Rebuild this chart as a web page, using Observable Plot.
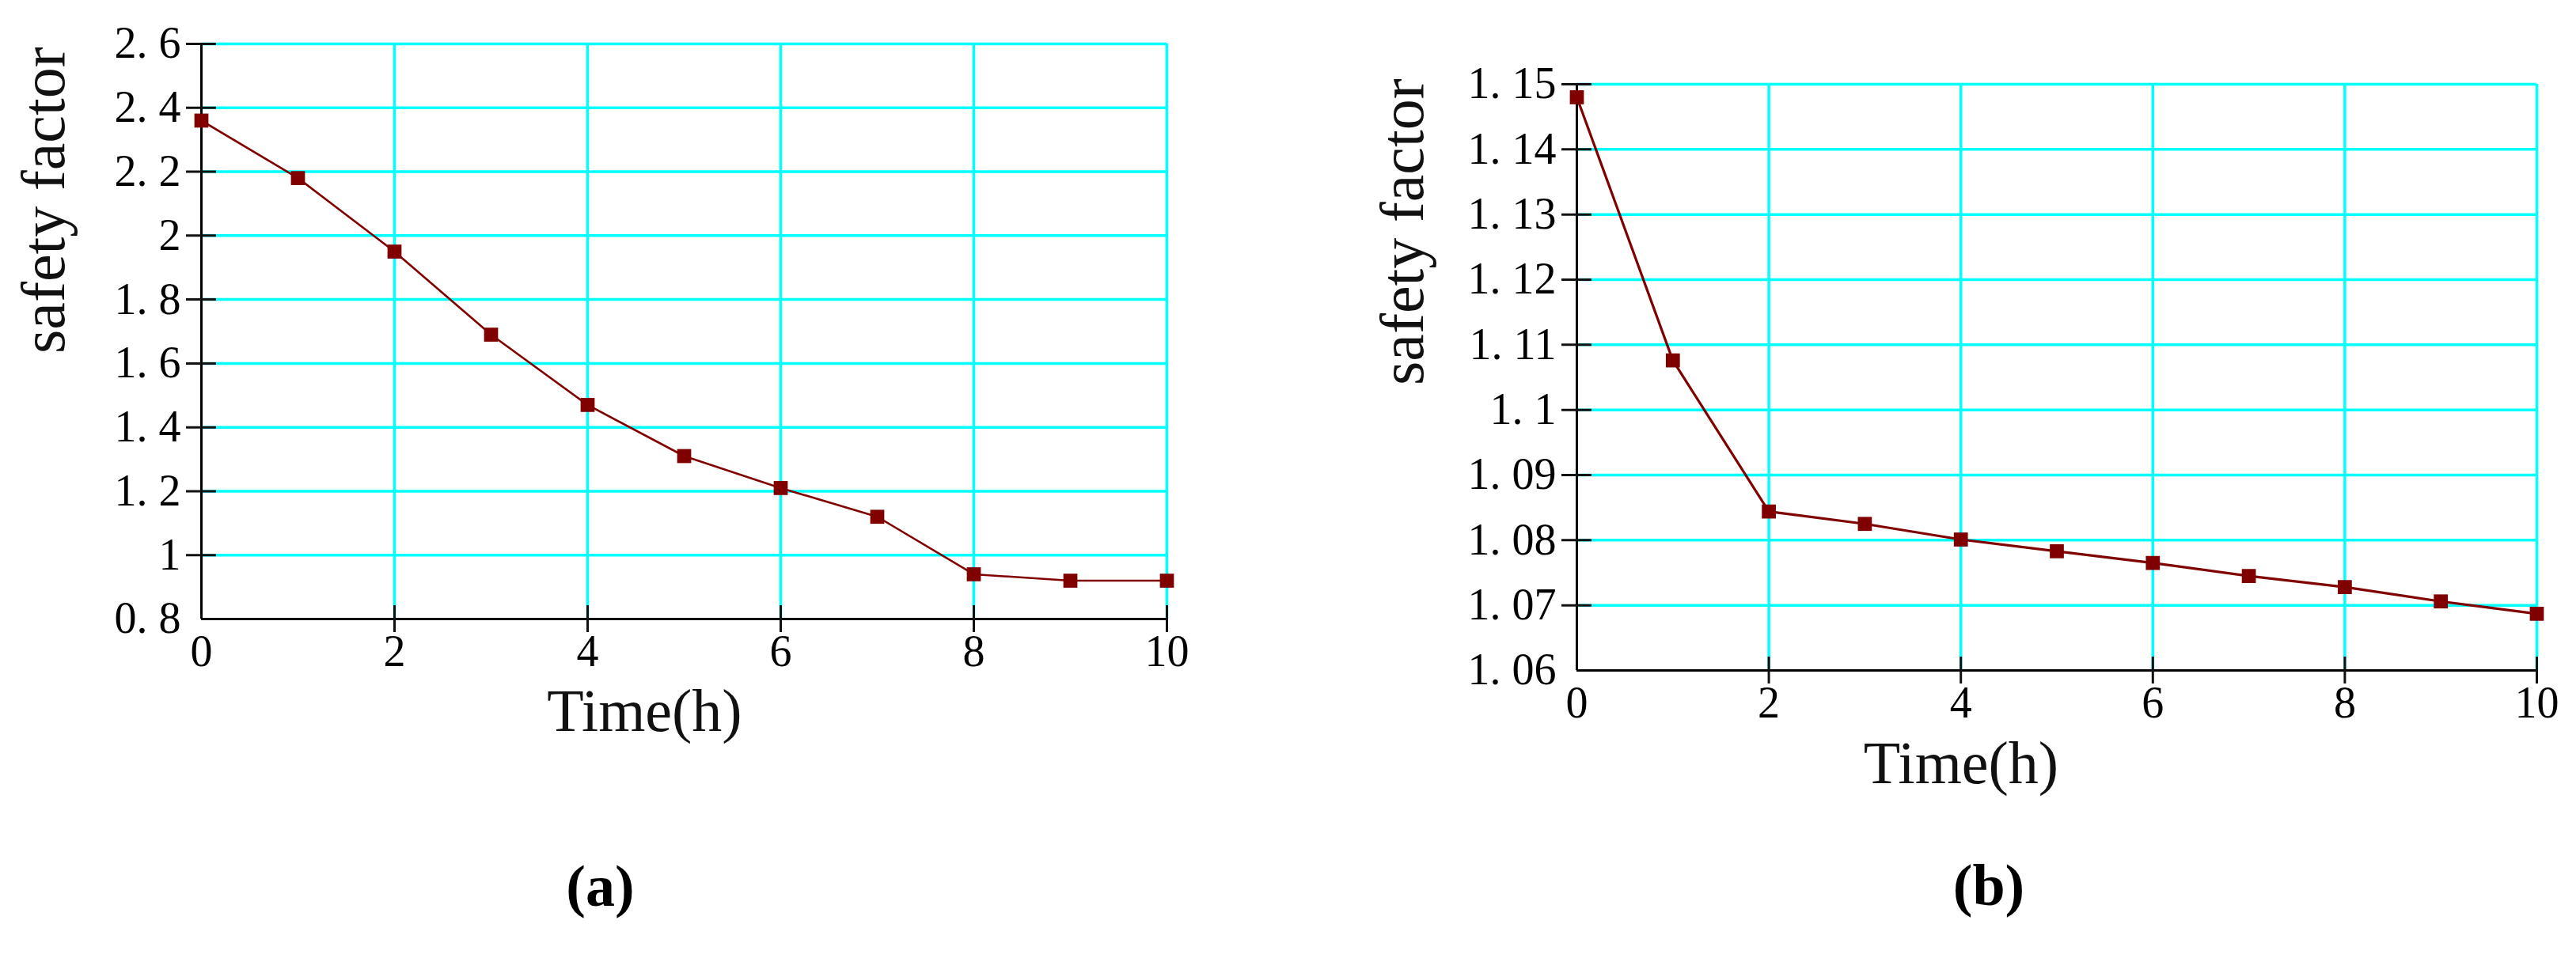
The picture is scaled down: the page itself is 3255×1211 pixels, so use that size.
<!DOCTYPE html>
<html><head><meta charset="utf-8">
<script src="https://cdn.jsdelivr.net/npm/d3@7"></script>
<script src="https://cdn.jsdelivr.net/npm/@observablehq/plot@0.6"></script>
<style>
body{margin:0;background:#fff;width:3255px;height:1211px;position:relative;overflow:hidden}
.p{position:absolute;top:0}
</style>
</head><body>
<div id="pa" class="p" style="left:0px"></div>
<div id="pb" class="p" style="left:1640px"></div>
<script>
// ---- data ----
const timesA = [0, 1, 2, 3, 4, 5, 6, 7, 8, 9, 10];
const safetyA = [2.36, 2.18, 1.95, 1.69, 1.47, 1.31, 1.21, 1.12, 0.94, 0.92, 0.92];
const timesB = [0, 1, 2, 3, 4, 5, 6, 7, 8, 9, 10];
const safetyB = [1.148, 1.1076, 1.0844, 1.0825, 1.0801, 1.0783, 1.0765, 1.0745, 1.0728, 1.0706, 1.0687];
const xTicks = [0, 2, 4, 6, 8, 10];
const yTicksA = [0.8, 1.0, 1.2, 1.4, 1.6, 1.8, 2.0, 2.2, 2.4, 2.6];
const yTicksB = [1.06, 1.07, 1.08, 1.09, 1.10, 1.11, 1.12, 1.13, 1.14, 1.15];
const xLabel = "Time(h)";
const yLabel = "safety factor";
const captions = ["(a)", "(b)"];

const fmt = d => String(+d.toFixed(2)).replace(".", ". ");
const CYAN = "#00ffff", DARKRED = "#800000";

function panel(o) {
  const data = o.times.map((t, i) => ({t, v: o.values[i]}));
  const innerW = o.width - o.ml - o.mr;
  const innerH = o.height - o.mt - o.mb;
  return Plot.plot({
    width: o.width, height: o.height,
    marginLeft: o.ml, marginRight: o.mr, marginTop: o.mt, marginBottom: o.mb,
    x: {domain: [o.times[0], o.times[o.times.length - 1]]},
    y: {domain: [o.yTicks[0], o.yTicks[o.yTicks.length - 1]]},
    style: {fontFamily: "'Liberation Serif', serif", fontSize: "56px", color: "#000", background: "transparent", overflow: "visible"},
    marks: [
      Plot.gridX(xTicks.slice(1), {stroke: CYAN, strokeOpacity: 1, strokeWidth: 3.5}),
      Plot.gridY(o.yTicks.slice(1), {stroke: CYAN, strokeOpacity: 1, strokeWidth: 3.5}),
      Plot.ruleX([o.times[0]], {stroke: "#000", strokeWidth: 3}),
      Plot.ruleY([o.yTicks[0]], {stroke: "#000", strokeWidth: 3}),
      Plot.tickX(xTicks.slice(1), {x: d => d, stroke: "#111", strokeWidth: 3, insetTop: innerH - 17, insetBottom: -17}),
      Plot.tickY(o.yTicks.slice(1), {y: d => d, stroke: "#111", strokeWidth: 3, insetLeft: -19, insetRight: innerW - 19}),
      Plot.axisX(xTicks, {tickSize: 0, tickPadding: 20, tickFormat: fmt, label: null}),
      Plot.axisY(o.yTicks, {tickSize: 0, tickPadding: 26, tickFormat: fmt, label: null}),
      Plot.line(data, {x: "t", y: "v", stroke: DARKRED, strokeWidth: o.lw}),
      Plot.dot(data, {x: "t", y: "v", symbol: "square", r: 10, fill: DARKRED, stroke: "none"}),
      Plot.text([yLabel], {frameAnchor: "left", rotate: -90, dx: o.ylDx, dy: o.ylDy, fontSize: 78, fill: "#111"}),
      Plot.text([xLabel], {frameAnchor: "bottom", dx: o.xlDx, dy: o.xlDy, fontSize: 76, fill: "#111"}),
      Plot.text([o.caption], {frameAnchor: "bottom", dx: o.capDx, dy: o.capDy, fontSize: 74, fontWeight: "bold", fill: "#000"})
    ]
  });
}

document.getElementById("pa").append(panel({
  times: timesA, values: safetyA, yTicks: yTicksA, caption: captions[0], lw: 2.6,
  width: 1600, height: 1211, ml: 254, mr: 126, mt: 55, mb: 429,
  ylDx: -198, ylDy: 28, xlDx: -50, xlDy: 141, capDx: -106, capDy: 362
}));
document.getElementById("pb").append(panel({
  times: timesB, values: safetyB, yTicks: yTicksB, caption: captions[1], lw: 3.2,
  width: 1615, height: 1211, ml: 352, mr: 50, mt: 106, mb: 364,
  ylDx: -219, ylDy: 10, xlDx: -121, xlDy: 142, capDx: -86, capDy: 296
}));
</script>
</body></html>
